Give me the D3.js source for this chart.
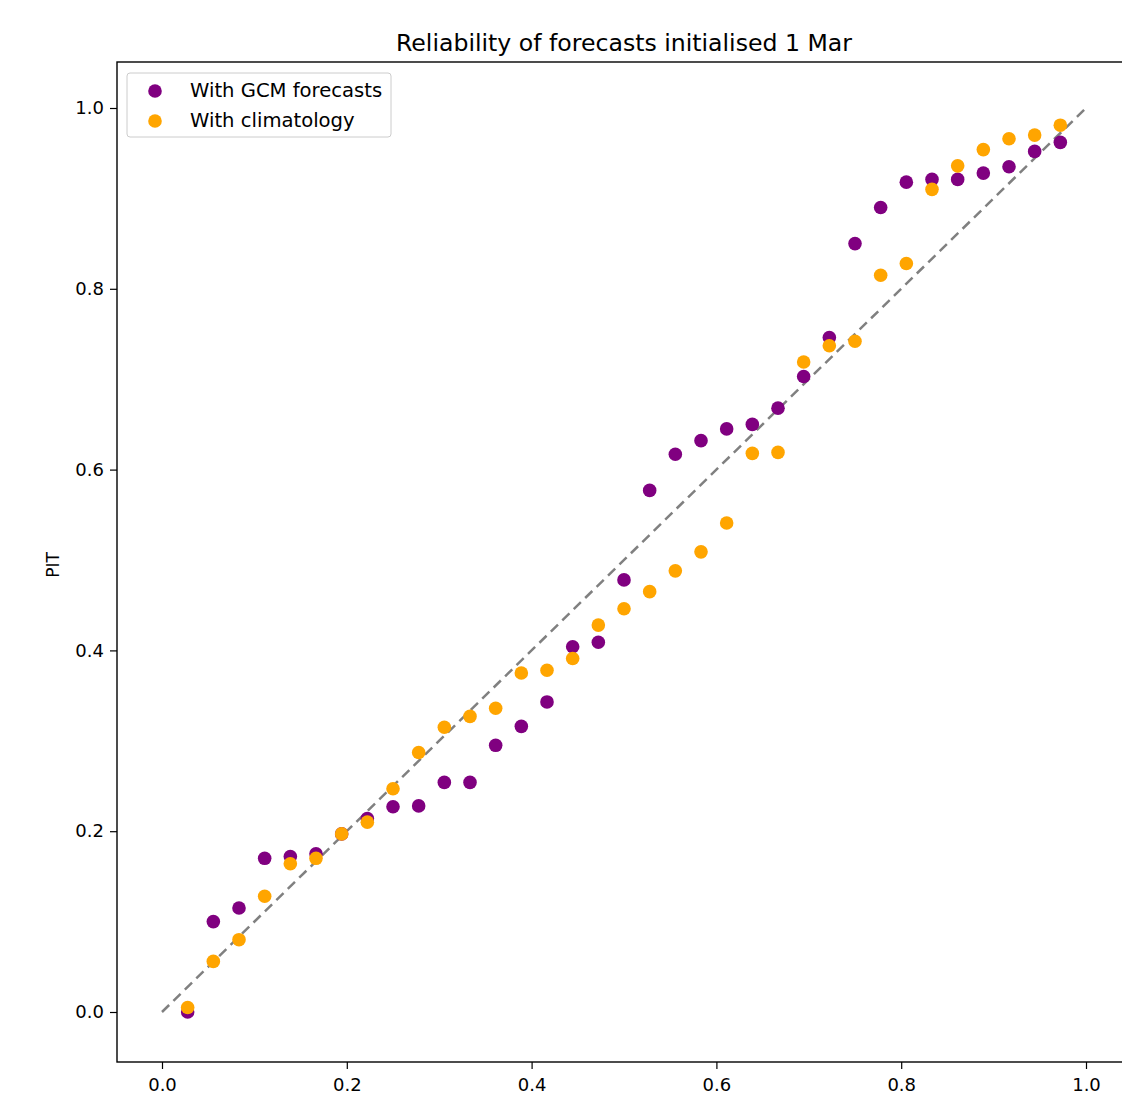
<!DOCTYPE html>
<html lang="en">
<head>
<meta charset="UTF-8">
<title>Reliability of forecasts</title>
<script src="https://d3js.org/d3.v7.min.js"></script>
<style>
  body { margin: 0; background: #fff; }
  svg text { font-family: "DejaVu Sans", sans-serif; fill: #000; }
</style>
</head>
<body>
<div id="chart"></div>
<script>
// rank position (i/36) for each point
var ranks = d3.range(1, 36);

// PIT values with GCM forecasts
var gcmPIT = [0.000, 0.100, 0.115, 0.170, 0.172, 0.175, 0.197, 0.214, 0.227, 0.228,
  0.254, 0.254, 0.295, 0.316, 0.343, 0.404, 0.409, 0.478, 0.577, 0.617,
  0.632, 0.645, 0.650, 0.668, 0.703, 0.746, 0.850, 0.890, 0.918, 0.921,
  0.921, 0.928, 0.935, 0.952, 0.962];

// PIT values with climatology
var climPIT = [0.005, 0.056, 0.080, 0.128, 0.164, 0.170, 0.197, 0.210, 0.247, 0.287,
  0.315, 0.327, 0.336, 0.375, 0.378, 0.391, 0.428, 0.446, 0.465, 0.488,
  0.509, 0.541, 0.618, 0.619, 0.719, 0.737, 0.742, 0.815, 0.828, 0.910,
  0.936, 0.954, 0.966, 0.970, 0.981];

var xTicks = [0.0, 0.2, 0.4, 0.6, 0.8, 1.0];
var yTicks = [0.0, 0.2, 0.4, 0.6, 0.8, 1.0];

var width = 1122, height = 1098;
var svg = d3.select("#chart").append("svg")
  .attr("width", width).attr("height", height);

var x = d3.scaleLinear().domain([0, 1]).range([162, 1086]);
var y = d3.scaleLinear().domain([0, 1]).range([1012, 108]);

// axes box (right edge falls outside the picture)
var boxL = 117, boxR = 1140, boxT = 62, boxB = 1062;

// title
svg.append("text")
  .attr("x", 624).attr("y", 51)
  .attr("text-anchor", "middle")
  .style("font-size", "23.6px")
  .text("Reliability of forecasts initialised 1 Mar");

// axes
var xAxis = d3.axisBottom(x).tickValues(xTicks).tickFormat(d3.format(".1f"))
  .tickSizeOuter(0).tickSize(7).tickPadding(9);
var yAxis = d3.axisLeft(y).tickValues(yTicks).tickFormat(d3.format(".1f"))
  .tickSizeOuter(0).tickSize(7).tickPadding(6);

var gx = svg.append("g").attr("transform", "translate(0," + boxB + ")").call(xAxis);
var gy = svg.append("g").attr("transform", "translate(" + boxL + ",0)").call(yAxis);
[gx, gy].forEach(function(g) {
  g.select(".domain").remove();
  g.selectAll("text").style("font-size", "18px").style("font-family", "DejaVu Sans, sans-serif");
  g.selectAll("line").attr("stroke", "#000").attr("stroke-width", 1.2);
});

// spines
svg.append("rect")
  .attr("x", boxL).attr("y", boxT)
  .attr("width", boxR - boxL).attr("height", boxB - boxT)
  .attr("fill", "none").attr("stroke", "#000").attr("stroke-width", 1.4);

// y label
svg.append("text")
  .attr("transform", "translate(59,565) rotate(-90)")
  .attr("text-anchor", "middle")
  .style("font-size", "17px")
  .text("PIT");

// diagonal reference
svg.append("line")
  .attr("x1", x(0)).attr("y1", y(0))
  .attr("x2", x(1)).attr("y2", y(1))
  .attr("stroke", "#808080").attr("stroke-width", 2.5)
  .attr("stroke-dasharray", "10,6");

var plot = svg.append("g");
plot.selectAll("circle.gcm").data(ranks).enter().append("circle")
  .attr("class", "gcm")
  .attr("cx", function(d) { return x(d / 36); })
  .attr("cy", function(d, i) { return y(gcmPIT[i]); })
  .attr("r", 6.8).attr("fill", "purple");

plot.selectAll("circle.clim").data(ranks).enter().append("circle")
  .attr("class", "clim")
  .attr("cx", function(d) { return x(d / 36); })
  .attr("cy", function(d, i) { return y(climPIT[i]); })
  .attr("r", 6.8).attr("fill", "orange");

// legend
var legend = svg.append("g");
legend.append("rect")
  .attr("x", 127).attr("y", 73).attr("width", 264).attr("height", 64)
  .attr("rx", 3).attr("fill", "#fff").attr("fill-opacity", 0.8)
  .attr("stroke", "#ccc").attr("stroke-width", 1);
var entries = [{label: "With GCM forecasts", color: "purple"}, {label: "With climatology", color: "orange"}];
entries.forEach(function(e, i) {
  legend.append("circle").attr("cx", 155).attr("cy", 91 + i * 30).attr("r", 6.8).attr("fill", e.color);
  legend.append("text").attr("x", 190).attr("y", 97 + i * 30)
    .style("font-size", "19.6px").text(e.label);
});
</script>
</body>
</html>
